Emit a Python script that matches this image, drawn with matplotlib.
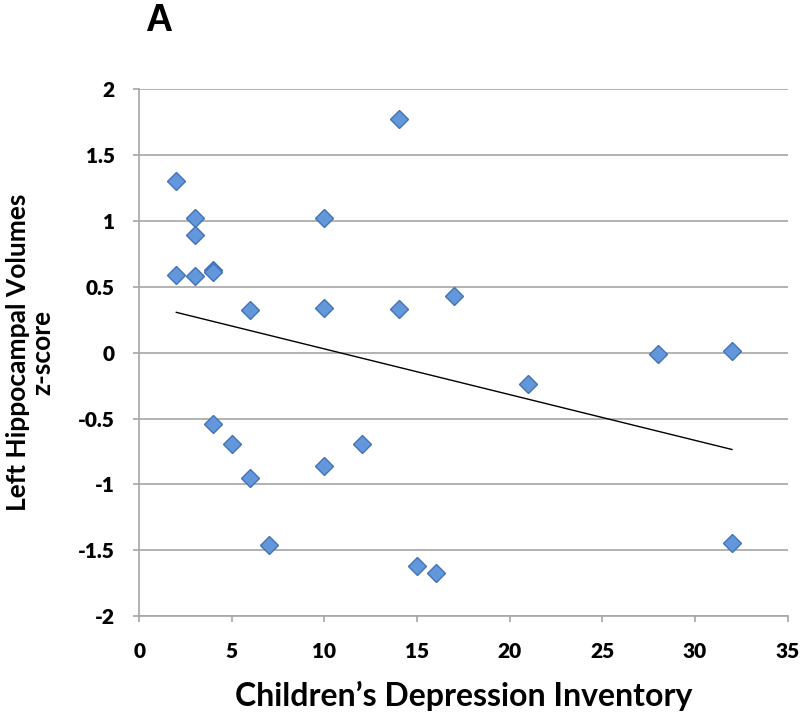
import numpy as np
import matplotlib
matplotlib.use('Agg')
import matplotlib.pyplot as plt

# CDI score vs left hippocampal volume z-score
cdi = [2, 2, 3, 3, 3, 4, 4, 4, 5, 6, 6, 7, 10, 10, 10, 12, 14, 14, 15, 16, 17, 21, 28, 32, 32]
zscore = [1.30, 0.59, 1.02, 0.89, 0.58, 0.63, 0.61, -0.54, -0.69, 0.32, -0.95, -1.46,
          1.02, 0.34, -0.86, -0.69, 1.77, 0.33, -1.62, -1.67, 0.43, -0.24, -0.01, 0.01, -1.44]
x_ticks = [0, 5, 10, 15, 20, 25, 30, 35]
y_ticks = [-2, -1.5, -1, -0.5, 0, 0.5, 1, 1.5, 2]
y_tick_labels = ['-2', '-1.5', '-1', '-0.5', '0', '0.5', '1', '1.5', '2']

plt.rcParams['font.family'] = ['Lato', 'DejaVu Sans']
plt.rcParams['font.weight'] = 'bold'

fig = plt.figure(figsize=(8, 7.19), dpi=100)
ax = fig.add_axes([0.1741, 0.1428, 0.8103, 0.7334])

grey = '#a6a6a6'
ax.set_xlim(0, 35)
ax.set_ylim(-2, 2)
ax.set_xticks(x_ticks)
ax.set_yticks(y_ticks)
ax.set_yticklabels(y_tick_labels)
ax.grid(axis='y', color=grey, linewidth=1.2)
ax.set_axisbelow(True)
for s in ['top', 'right']:
    ax.spines[s].set_visible(False)
for s in ['left', 'bottom']:
    ax.spines[s].set_color(grey)
    ax.spines[s].set_linewidth(1.2)
ax.tick_params(axis='both', color=grey, labelcolor='black', labelsize=15,
               length=4.5, width=1.2, direction='out')
ax.tick_params(axis='x', pad=14)
ax.tick_params(axis='y', pad=13)
for lab in ax.get_xticklabels() + ax.get_yticklabels():
    lab.set_fontweight('heavy')

# linear trend line over the data range
slope, icpt = np.polyfit(cdi, zscore, 1)
xs = np.array([min(cdi), max(cdi)])
ax.plot(xs, slope * xs + icpt, color='black', linewidth=1)

ax.plot(cdi, zscore, linestyle='none', marker='D', markersize=9.5,
        markerfacecolor='#6397dc', markeredgecolor='#4472b4', markeredgewidth=1)

ax.set_xlabel('Children\u2019s Depression Inventory', fontsize=23, fontweight='bold', labelpad=14)
ax.set_ylabel('Left Hippocampal Volumes\nz-score', fontsize=19, fontweight='bold',
              labelpad=17, linespacing=1.0)

fig.text(0.181, 0.971, 'A', fontsize=27, fontweight='bold', family='Liberation Sans',
         va='center', ha='left')

fig.savefig('out.png', dpi=100)
